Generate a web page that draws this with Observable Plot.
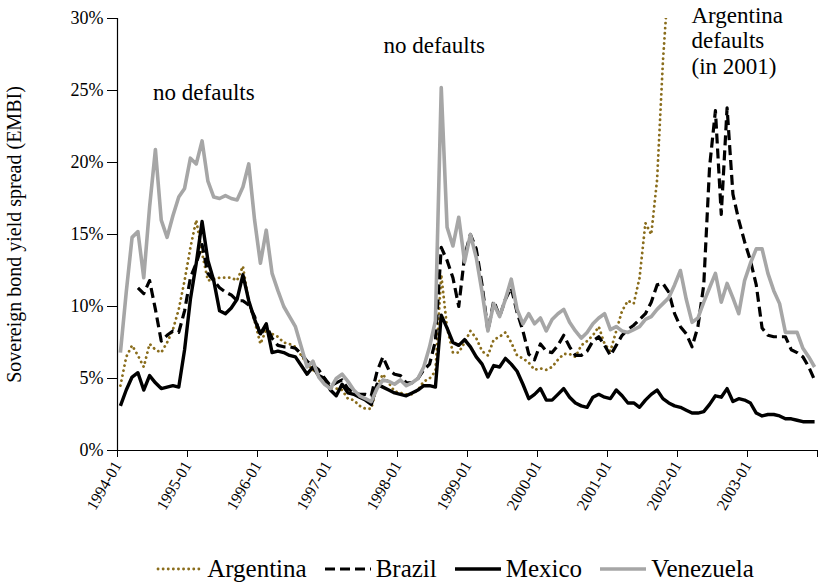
<!DOCTYPE html>
<html><head><meta charset="utf-8">
<script src="https://cdn.jsdelivr.net/npm/d3@7"></script>
<script src="https://cdn.jsdelivr.net/npm/@observablehq/plot@0.6"></script>
<style>
body{margin:0;background:#fff;font-family:"Liberation Serif",serif;}
#legend{display:flex;justify-content:center;align-items:center;height:38px;padding-left:92px;width:818px;box-sizing:border-box;font-size:25px;color:#000;font-family:"Liberation Serif",serif;}
.item{display:flex;align-items:center;margin:0 9px;font-family:"Liberation Serif",serif;}
.item svg{margin-right:5px;}
svg text{font-family:"Liberation Serif",serif;}
</style></head><body><div id="chart"></div><div id="legend"></div>
<script>
const tickLabels = ["1994-01","1995-01","1996-01","1997-01","1998-01","1999-01","2000-01","2001-01","2002-01","2003-01"];
const yTicks = [0,5,10,15,20,25,30];
const yLabel = "Sovereign bond yield spread (EMBI)";
const seriesNames = ["Argentina","Brazil","Mexico","Venezuela"];

const argentina = [4.5,6.5,7.3,6.6,5.8,7.4,7.0,6.8,7.5,8.4, 9.8,11.8,14.1,16.0,13.7,11.8,11.9,12.0,12.0,12.0, 11.8,12.8,10.3,9.0,7.4,8.4,8.1,7.9,7.5,7.4, 7.2,6.6,6.0,5.6,5.2,4.9,4.4,4.3,4.2,3.6, 3.5,3.1,2.9,2.9,4.5,5.3,4.7,4.1,4.0,3.9, 3.9,4.2,4.8,5.0,5.5,12.2,8.5,6.8,6.8,7.5, 8.3,7.8,6.9,6.6,7.7,7.9,8.2,7.5,6.6,6.4, 6.1,5.6,5.7,5.6,5.8,6.3,6.7,6.7,6.5,7.3, 7.6,8.0,8.6,7.4,6.9,8.3,9.7,10.4,10.2,12.0, 15.8,15.0,18.8,27.0,33.0];
const brazil = [null,null,null,11.3,10.9,11.8,9.8,7.6,8.0,8.3, 8.2,9.7,12.0,13.0,14.3,12.3,11.8,11.3,11.0,10.8, 10.4,10.4,10.1,9.3,8.0,8.7,7.8,7.3,7.2,7.2, 7.1,6.7,6.2,5.9,5.6,5.0,4.5,4.7,4.9,4.3, 4.0,3.9,3.9,3.8,5.5,6.5,5.6,5.3,5.2,4.7, 4.7,5.0,5.6,6.0,7.6,14.1,13.2,12.0,10.0,13.5, 15.0,14.0,11.5,8.3,10.4,9.3,10.5,11.3,9.6,8.3, 6.7,6.3,7.4,6.9,6.8,7.3,8.0,7.2,6.6,6.6, 6.9,7.6,7.9,7.3,6.6,7.3,8.0,8.4,8.7,9.1, 9.5,10.3,11.5,11.6,11.0,9.5,8.6,8.1,7.2,8.6, 11.5,19.7,23.6,16.4,23.8,17.8,16.0,14.5,13.2,11.5, 8.5,8.0,7.9,7.9,7.9,7.0,6.8,6.5,5.8,4.9];
const mexico = [3.1,4.2,5.1,5.4,4.2,5.2,4.7,4.3,4.4,4.5, 4.4,7.0,10.5,13.0,15.9,13.2,11.8,9.7,9.5,9.9, 10.5,12.2,10.4,9.1,8.1,8.8,6.8,6.9,6.8,6.6, 6.5,5.9,5.3,5.8,5.2,5.0,4.2,3.8,4.6,4.0, 3.9,3.7,3.5,3.2,4.6,4.4,4.2,4.0,3.9,3.8, 4.0,4.2,4.5,4.5,4.4,9.4,8.5,7.5,7.3,7.7, 7.2,6.5,6.0,5.1,5.9,5.8,6.4,6.0,5.5,4.6, 3.6,3.9,4.3,3.5,3.5,3.9,4.3,3.7,3.3,3.1, 3.0,3.7,3.9,3.7,3.6,4.2,3.8,3.3,3.3,3.0, 3.5,3.9,4.2,3.6,3.3,3.1,3.0,2.8,2.6,2.6, 2.7,3.2,3.8,3.7,4.3,3.4,3.6,3.5,3.3,2.6, 2.4,2.5,2.5,2.4,2.2,2.2,2.1,2.0,2.0,2.0];
const venezuela = [6.8,11.0,14.8,15.2,12.0,16.9,20.9,16.0,14.8,16.3, 17.6,18.2,20.3,19.9,21.5,18.7,17.6,17.5,17.7,17.5, 17.4,18.3,19.9,16.0,13.0,15.3,12.3,11.1,10.0,9.3, 8.6,7.2,5.8,6.2,5.1,4.6,4.3,5.0,5.3,4.8, 4.2,3.8,3.6,3.4,4.3,4.9,4.8,4.6,4.9,4.5, 4.7,5.0,5.8,7.2,9.0,25.2,15.5,14.2,16.2,13.1, 15.0,13.4,11.0,8.3,10.2,9.3,10.5,11.9,9.8,8.8, 9.5,8.8,9.2,8.3,9.1,9.5,9.8,8.9,8.3,7.8, 8.2,8.8,9.2,9.5,8.4,8.6,8.3,8.2,8.4,8.6, 9.1,9.3,9.8,10.2,10.6,11.5,12.5,10.5,8.9,9.2, 10.3,11.3,12.3,10.3,11.6,10.6,9.5,11.8,13.0,14.0, 14.0,12.3,11.1,10.2,8.2,8.2,8.2,7.1,6.5,5.8];

const noteCenter = [
  {x: 14.8, y: 24.86, text: "no defaults"},
  {x: 54.3, y: 28.1, text: "no defaults"}
];
const noteStart = [
  {x: 98.4, y: 30.2, text: "Argentina"},
  {x: 98.4, y: 28.45, text: "defaults"},
  {x: 98.4, y: 26.65, text: "(in 2001)"}
];

const FONT = "Liberation Serif, serif";
const styles = [
  {stroke:"#8a6d1c", width:2.8, dash:"0.1 5", cap:"round"},
  {stroke:"#000", width:3.2, dash:"10 5", cap:"butt"},
  {stroke:"#000", width:3.4, dash:null, cap:"butt"},
  {stroke:"#a6a6a6", width:3.6, dash:null, cap:"butt"}
];
const values = [argentina, brazil, mexico, venezuela];
const rows = (vals) => vals.map((v, i) => ({x: i + 0.5, y: v}));

const lineMarks = values.map((vals, k) => Plot.line(rows(vals), {
  x: "x", y: "y", stroke: styles[k].stroke, strokeWidth: styles[k].width,
  strokeDasharray: styles[k].dash, strokeLinecap: styles[k].cap, strokeLinejoin: "round", clip: true
}));

const chart = Plot.plot({
  width: 818, height: 550, marginLeft: 117, marginRight: 1, marginTop: 18, marginBottom: 100,
  style: {fontFamily: FONT, fontSize: "16px", color: "#000", background: "#fff", overflow: "visible"},
  x: {domain: [0, 120]},
  y: {domain: [0, 30]},
  marks: [
    Plot.axisY(yTicks, {tickFormat: d => d + "%", tickSize: 10, tickPadding: 4, fontSize: 18, fontFamily: FONT, label: null}),
    Plot.axisX(d3.range(0, 121, 12), {tickFormat: d => tickLabels[d / 12] ?? "", tickRotate: -60, tickSize: 7, fontSize: 16, fontFamily: FONT, label: null}),
    Plot.text([yLabel], {frameAnchor: "left", rotate: -90, dx: -103, fontSize: 20, fontFamily: FONT, textAnchor: "middle", text: d => d}),
    ...lineMarks,
    Plot.ruleX([0], {stroke: "#000", strokeWidth: 1.2}),
    Plot.ruleY([0], {stroke: "#000", strokeWidth: 1.2}),
    Plot.text(noteCenter, {x: "x", y: "y", text: "text", fontSize: 23, fontFamily: FONT, textAnchor: "middle", fill: "#000"}),
    Plot.text(noteStart, {x: "x", y: "y", text: "text", fontSize: 23, fontFamily: FONT, textAnchor: "start", fill: "#000"})
  ]
});
document.getElementById("chart").appendChild(chart);

const legend = document.getElementById("legend");
seriesNames.forEach((name, k) => {
  const s = styles[k];
  const item = document.createElement("div");
  item.className = "item";
  item.innerHTML = `<svg width="46" height="12"><line x1="${s.cap==="round"?2:0}" y1="6" x2="${s.cap==="round"?44:46}" y2="6" stroke="${s.stroke}" stroke-width="${s.width}" ${s.dash ? `stroke-dasharray="${s.dash}"` : ""} stroke-linecap="${s.cap}"/></svg><span>${name}</span>`;
  legend.appendChild(item);
});
</script>
</body></html>
